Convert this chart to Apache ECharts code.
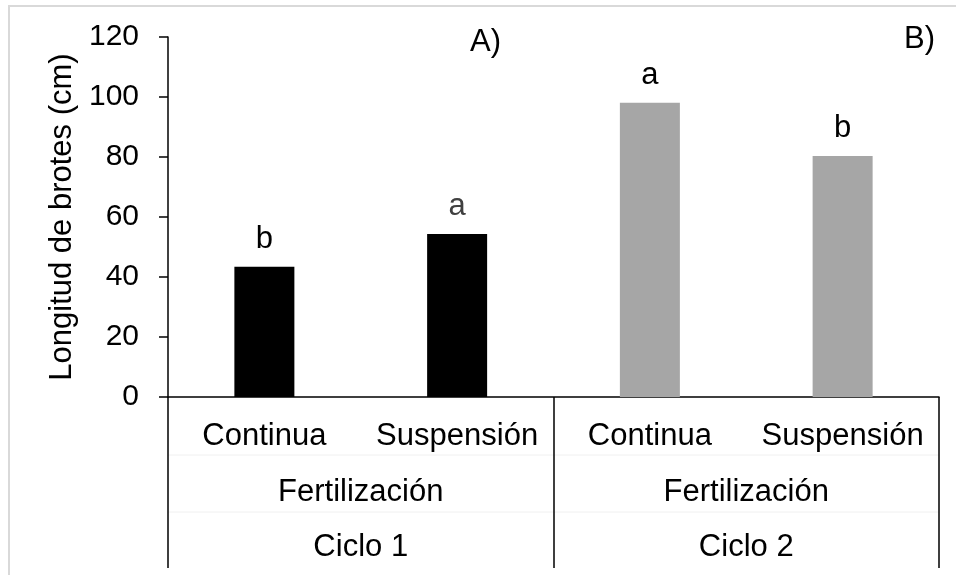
<!DOCTYPE html>
<html>
<head>
<meta charset="utf-8">
<script src="https://cdn.jsdelivr.net/npm/echarts@6/dist/echarts.min.js"></script>
<style>
  html, body { margin: 0; padding: 0; background: #fff; }
  #box { width: 956px; height: 575px; }
</style>
</head>
<body>
<div id="box"></div>
<script>
var tratamientos = ['Continua', 'Suspensión', 'Continua', 'Suspensión'];
var factor = ['Fertilización', 'Fertilización'];
var ciclos = ['Ciclo 1', 'Ciclo 2'];
var longitud = [43.4, 54.3, 98.1, 80.3];
var letras = ['b', 'a', 'a', 'b'];
var cicloDeBarra = [0, 0, 1, 1];
var yTicks = [0, 20, 40, 60, 80, 100, 120];

var font = '"Liberation Sans", Arial, sans-serif';
var colorCiclo = ['#000000', '#a6a6a6'];
var colorLetra = ['#000000', '#404040', '#000000', '#000000'];

var chart = echarts.init(document.getElementById('box'));

var datos = longitud.map(function (v, i) {
    return {
        value: v,
        itemStyle: { color: colorCiclo[cicloDeBarra[i]] },
        label: { color: colorLetra[i] }
    };
});

var option = {
    animation: false,
    backgroundColor: '#ffffff',
    textStyle: { fontFamily: font },
    grid: { left: 168, right: 17, top: 37, bottom: 178, containLabel: false },
    yAxis: {
        type: 'value',
        min: yTicks[0],
        max: yTicks[yTicks.length - 1],
        interval: 20,
        name: 'Longitud de brotes (cm)',
        nameLocation: 'middle',
        nameGap: 89,
        nameTextStyle: { fontSize: 31, color: '#000', fontFamily: font },
        axisLine: { show: true, lineStyle: { color: '#000', width: 1.5 } },
        axisTick: { show: true, length: 9, lineStyle: { color: '#000', width: 1.5 } },
        axisLabel: { fontSize: 30, color: '#000', margin: 29, fontFamily: font },
        splitLine: { show: false }
    },
    xAxis: [
        {
            type: 'category',
            data: tratamientos,
            position: 'bottom',
            axisLine: { show: true, onZero: false, lineStyle: { color: '#000', width: 1.5 } },
            axisTick: { show: false },
            axisLabel: { fontSize: 31, color: '#000', margin: 24, interval: 0, fontFamily: font }
        },
        {
            type: 'category',
            data: factor,
            position: 'bottom',
            axisLine: { show: false },
            axisTick: { show: false },
            axisLabel: { fontSize: 31, color: '#000', margin: 80, interval: 0, fontFamily: font }
        },
        {
            type: 'category',
            data: ciclos,
            position: 'bottom',
            axisLine: { show: false },
            axisTick: { show: true, length: 171, inside: false, lineStyle: { color: '#000', width: 1.5 } },
            axisLabel: { fontSize: 31, color: '#000', margin: 135, interval: 0, fontFamily: font }
        }
    ],
    series: [
        {
            type: 'bar',
            xAxisIndex: 0,
            barWidth: 60,
            data: datos,
            label: {
                show: true,
                position: 'top',
                distance: 12,
                fontSize: 31,
                fontFamily: font,
                formatter: function (p) { return letras[p.dataIndex]; }
            }
        }
    ],
    graphic: [
        {
            type: 'rect',
            shape: { x: 9, y: 6, width: 1000, height: 700 },
            style: { fill: 'none', stroke: '#d9d9d9', lineWidth: 2 },
            silent: true
        },
        {
            type: 'line',
            shape: { x1: 168, y1: 455, x2: 939, y2: 455 },
            style: { stroke: '#f0f0f0', lineWidth: 1 },
            silent: true
        },
        {
            type: 'line',
            shape: { x1: 168, y1: 512, x2: 939, y2: 512 },
            style: { stroke: '#f0f0f0', lineWidth: 1 },
            silent: true
        },
        {
            type: 'text',
            right: 455,
            top: 27,
            style: { text: 'A)', fill: '#000', font: '31px ' + font }
        },
        {
            type: 'text',
            right: 21,
            top: 24,
            style: { text: 'B)', fill: '#000', font: '31px ' + font }
        }
    ]
};

chart.setOption(option, true);
</script>
</body>
</html>
